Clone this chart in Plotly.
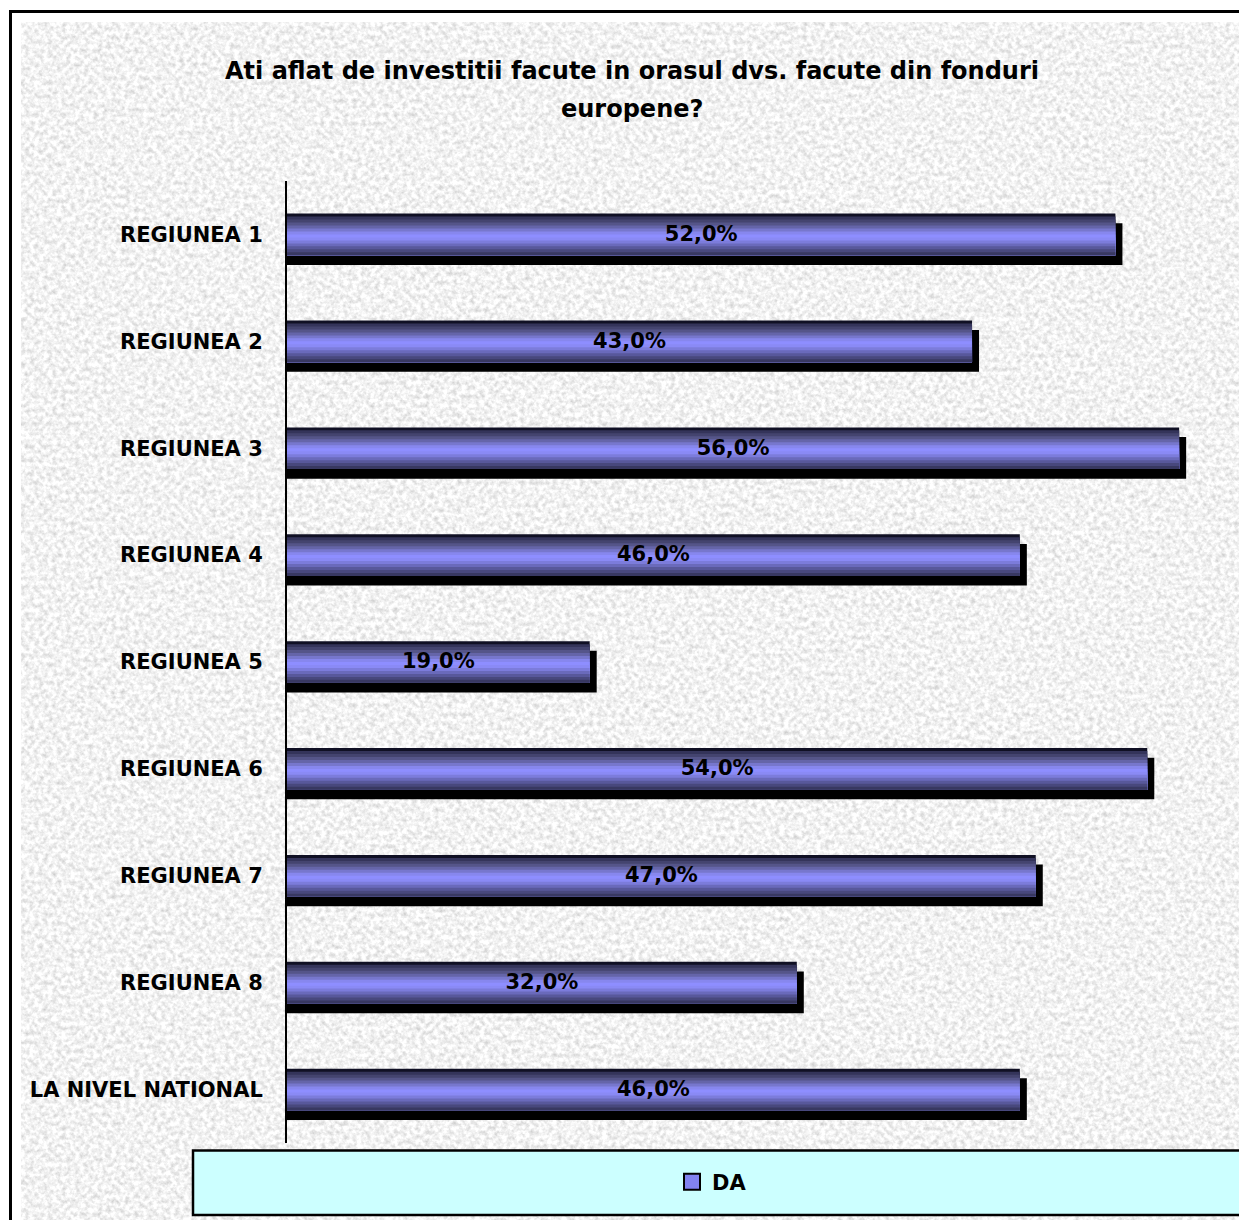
import plotly.graph_objects as go
from urllib.parse import quote

# ---- data -------------------------------------------------------------
categories = [
    "REGIUNEA 1", "REGIUNEA 2", "REGIUNEA 3", "REGIUNEA 4", "REGIUNEA 5",
    "REGIUNEA 6", "REGIUNEA 7", "REGIUNEA 8", "LA NIVEL NATIONAL",
]
values_da = [52.0, 43.0, 56.0, 46.0, 19.0, 54.0, 47.0, 32.0, 46.0]
series_name = "DA"
title_lines = [
    "Ati aflat de investitii facute in orasul dvs. facute din fonduri",
    "europene?",
]

# ---- page geometry ----------------------------------------------------
W, H = 1239, 1220
ML, MR, MT, MB = 287, 28, 181, 77
PW, PH = W - ML - MR, H - MT - MB
X_MAX = 58.0

def px_to_paper_x(px):
    return (px - ML) / PW

def px_to_paper_y(py):
    return (H - MB - py) / PH

FONT = "DejaVu Sans, Verdana, sans-serif"
BAR_W = 0.39          # bar thickness in category units
SHADOW_DX = 0.44      # shadow shift along the value axis (percent)
SHADOW_DY = 0.09      # shadow shift along the category axis

# cylinder shading, top edge to bottom edge
band_colors = [
    "#101024", "#34345a", "#44446f", "#555589", "#6565a9", "#7777cd",
    "#8787ee", "#8e8eff", "#8a8af5", "#7c7cdb", "#6a6abb", "#58589b",
    "#48487d", "#383861",
]

ypos = list(range(len(categories)))
labels = [f"{v:.1f}%".replace(".", ",") for v in values_da]

fig = go.Figure()

# drop shadow behind each bar
fig.add_bar(
    x=[v + SHADOW_DX for v in values_da], y=ypos, orientation="h",
    width=BAR_W, offset=-BAR_W / 2 + SHADOW_DY,
    marker=dict(color="#000000", line_width=0),
    showlegend=False, hoverinfo="skip",
)

# shaded bar body built from overlapping bands
n = len(band_colors)
bw = BAR_W / n
for i, c in enumerate(band_colors):
    fig.add_bar(
        x=values_da, y=ypos, orientation="h",
        width=BAR_W - i * bw, offset=-BAR_W / 2 + i * bw,
        marker=dict(color=c, line_width=0),
        showlegend=False, hoverinfo="skip",
    )

# value labels centred on the bars
fig.add_scatter(
    x=[v / 2 for v in values_da], y=[p + 0.01 for p in ypos],
    mode="text", text=labels,
    textfont=dict(family=FONT, size=21, color="#000000", weight="bold"),
    showlegend=False, hoverinfo="skip", cliponaxis=False,
)

# legend entry for the series
fig.add_scatter(
    x=[None], y=[None], mode="markers", name=series_name,
    marker=dict(symbol="square", size=16, color="#8282f0",
                line=dict(color="#000000", width=2)),
)

# granite-like chart-area fill
tw, th = W - 21, H - 22
svg = (
    f"<svg xmlns='http://www.w3.org/2000/svg' width='{tw}' height='{th}'>"
    "<filter id='g' x='0' y='0' width='100%' height='100%' color-interpolation-filters='sRGB'>"
    "<feTurbulence type='fractalNoise' baseFrequency='0.22' numOctaves='3' seed='7'/>"
    "<feColorMatrix type='matrix' values='0.34 0 0 0 0.78 0.34 0 0 0 0.78 0.34 0 0 0 0.78 0 0 0 0 1'/>"
    "</filter>"
    "<rect width='100%' height='100%' filter='url(#g)'/>"
    "</svg>"
)
texture = "data:image/svg+xml;charset=utf-8," + quote(svg)

fig.add_layout_image(
    source=texture, xref="paper", yref="paper",
    x=px_to_paper_x(21), y=px_to_paper_y(22),
    sizex=tw / PW, sizey=th / PH, sizing="stretch",
    xanchor="left", yanchor="top", layer="below",
)

# outer frame and legend box
fig.add_shape(
    type="rect", xref="paper", yref="paper", layer="below",
    x0=px_to_paper_x(10.5), x1=px_to_paper_x(1260),
    y0=px_to_paper_y(1240), y1=px_to_paper_y(11.5),
    line=dict(color="#000000", width=3), fillcolor="rgba(0,0,0,0)",
)
fig.add_shape(
    type="rect", xref="paper", yref="paper", layer="below",
    x0=px_to_paper_x(193), x1=px_to_paper_x(1260),
    y0=px_to_paper_y(1215), y1=px_to_paper_y(1150.5),
    line=dict(color="#000000", width=2.5), fillcolor="#ccffff",
)

# two-line title
for txt, py in zip(title_lines, [71, 109]):
    fig.add_annotation(
        text=f"<b>{txt}</b>", xref="paper", yref="paper",
        x=px_to_paper_x(632), y=px_to_paper_y(py),
        xanchor="center", yanchor="middle", showarrow=False,
        font=dict(family=FONT, size=24, color="#000000"),
    )

fig.update_layout(
    width=W, height=H,
    margin=dict(l=ML, r=MR, t=MT, b=MB, autoexpand=False),
    paper_bgcolor="#ffffff", plot_bgcolor="rgba(0,0,0,0)",
    barmode="overlay",
    showlegend=True,
    legend=dict(
        x=px_to_paper_x(672), y=px_to_paper_y(1182),
        xanchor="left", yanchor="middle",
        bgcolor="rgba(0,0,0,0)", borderwidth=0, itemwidth=30,
        font=dict(family=FONT, size=21, color="#000000", weight="bold"),
    ),
    xaxis=dict(
        range=[0, X_MAX], showgrid=False, zeroline=False,
        showline=False, showticklabels=False, ticks="",
    ),
    yaxis=dict(
        range=[len(categories) - 0.5, -0.5], tickmode="array",
        tickvals=ypos, ticktext=categories,
        showgrid=False, zeroline=False,
        showline=True, linecolor="#000000", linewidth=2,
        ticks="", ticklabelstandoff=18,
        tickfont=dict(family=FONT, size=21, color="#000000", weight="bold"),
    ),
)

fig.write_html("out.html")
